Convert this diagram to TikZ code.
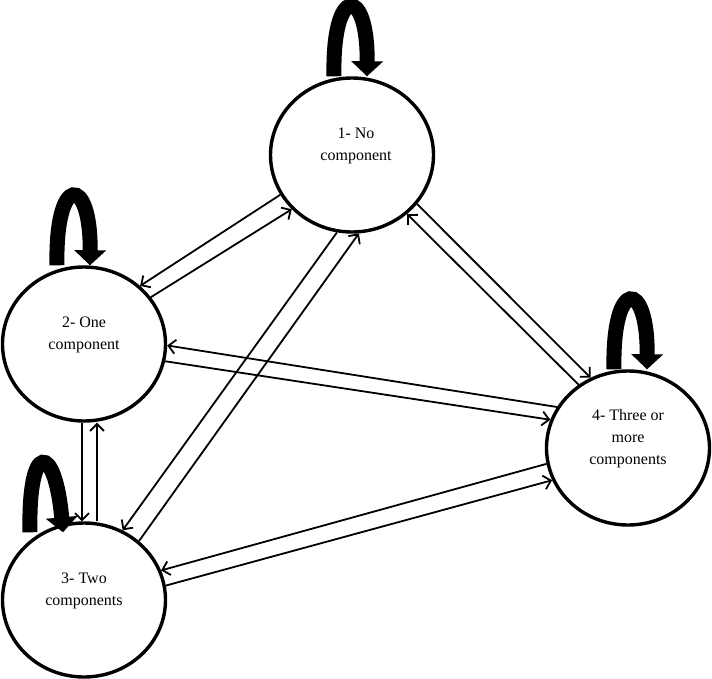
\documentclass[tikz,border=0pt]{standalone}
\usepackage{fontspec}
\setmainfont{Liberation Serif}
\usetikzlibrary{shapes.geometric,arrows.meta}

\tikzset{
  state/.style={draw, ellipse, line width=3.4pt, minimum width=163pt, minimum height=154pt, inner sep=0pt},
  statetext/.style={align=center, font=\fontsize{16}{22}\selectfont, yshift=9pt},
  selfloop/.style={line width=15pt, -{Triangle[width=31pt,length=15pt]}},
  move/.style={line width=1.8pt, -{Straight Barb[length=7pt,width=14pt]}}
}

\begin{document}
\begin{tikzpicture}[x=1pt, y=-1pt]
  \useasboundingbox (0,0) rectangle (712,678);

  % States
  \node[state, label={[statetext, xshift=4pt]center:{1- No\\component}}] (s1) at (352,155) {};
  \node[state, label={[statetext]center:{2- One\\component}}] (s2) at (84,344) {};
  \node[state, label={[statetext]center:{3- Two\\components}}] (s3) at (84,600) {};
  \node[state, label={[statetext]center:{4- Three or\\more\\components}}] (s4) at (628,448) {};

  % Self loops
  \draw[selfloop] ([xshift=-18pt]s1.north) .. controls +(-2,-92) and +(1,-91) .. ([xshift=15pt]s1.north);
  \draw[selfloop] ([xshift=-27pt]s2.north) .. controls +(-2,-92) and +(1,-91) .. ([xshift=6pt]s2.north);
  \draw[selfloop] ([shift={(-54,11)}]s3.north) .. controls +(-2,-92) and +(-8,-90) .. ([shift={(-21,11)}]s3.north);
  \draw[selfloop] ([xshift=-14pt]s4.north) .. controls +(-2,-92) and +(1,-91) .. ([xshift=19pt]s4.north);

  % Transitions
  \draw[move] (s1.209) -- (s2.46);
  \draw[move] (s2.35) -- (s1.222);
  \draw[move] (s1.259) -- (s3.61);
  \draw[move] (s3.47) -- (s1.275);
  \draw[move] (s1.323) -- (s4.118);
  \draw[move] (s4.128) -- (s1.313);
  \draw[move] (s4.150) -- (s2.359);
  \draw[move] (s2.348) -- (s4.160);
  \draw[move] (s4.191) -- (s3.21);
  \draw[move] (s3.10) -- (s4.203);
  \draw[move] ([xshift=-2pt]s2.south) -- ([xshift=-2pt]s3.north);
  \draw[move] ([xshift=13pt]s3.north) -- ([xshift=13pt]s2.south);
\end{tikzpicture}
\end{document}
